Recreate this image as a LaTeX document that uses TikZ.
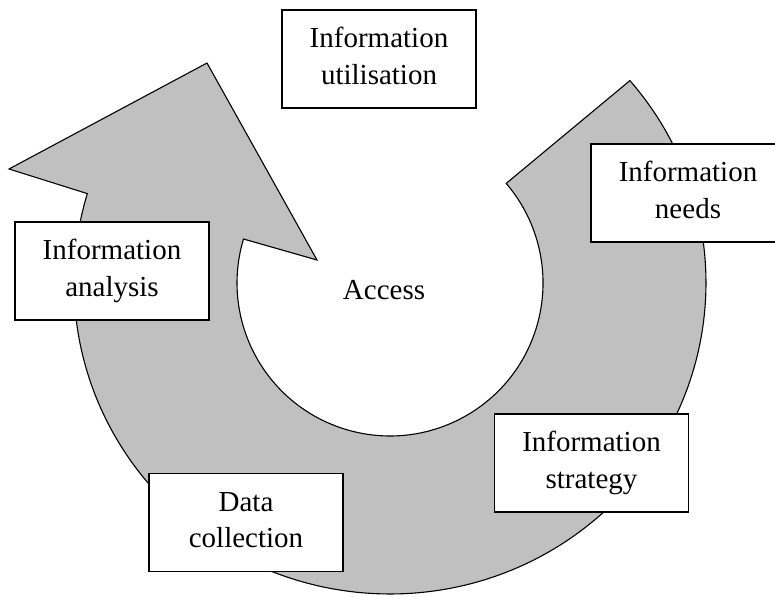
\documentclass[tikz,border=0pt]{standalone}
\usepackage{fontspec}
\setmainfont{Liberation Serif}
\definecolor{ringgray}{HTML}{C0C0C0}
\begin{document}
\begin{tikzpicture}[x=1pt,y=-1pt,
  box/.style={draw=black, line width=1.3pt, fill=white, minimum width=194pt, minimum height=98pt,
    inner sep=0pt, align=center, font=\fontsize{29}{36.7}\selectfont, text height=56.7pt, text depth=6pt},
  ring/.style={fill=ringgray, draw=black, line width=1.1pt, line join=miter},
  plain/.style={font=\fontsize{29}{36.7}\selectfont, inner sep=0pt}]
\useasboundingbox (0,0) rectangle (775,596);
\clip (0,0) rectangle (775,596);
\fill[white] (0,0) rectangle (775,596);
% circular arrow
\draw[ring] (629.9,80.6) arc[start angle=-40.6,end angle=196.7,x radius=316,y radius=311]
  -- (9,169) -- (207,63) -- (317,260) -- (243.5,239.0)
  arc[start angle=196.7,end angle=-40.6,radius=153] -- cycle;
% boxes
\node[box] (util) at (379,59) {Information\\utilisation};
\node[box] (needs) at (688,193) {Information\\needs};
\node[box] (analysis) at (112,271) {Information\\analysis};
\node[box] (data) at (246,522.5) {Data\\collection};
\node[box] (strategy) at (591.5,463) {Information\\strategy};
\node[plain] (access) at (384,290) {Access};
\end{tikzpicture}
\end{document}
